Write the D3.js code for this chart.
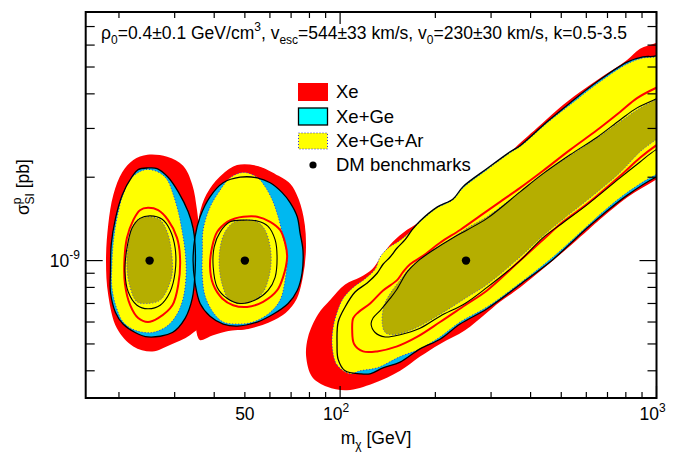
<!DOCTYPE html>
<html>
<head>
<meta charset="utf-8">
<script src="https://cdnjs.cloudflare.com/ajax/libs/d3/7.8.5/d3.min.js"></script>
<style>
  body { margin: 0; background: #fff; }
  svg { display: block; font-family: "Liberation Sans", Arial, Helvetica, sans-serif; }
</style>
</head>
<body>
<svg id="chart" width="684" height="462"></svg>
<script>
// axis ranges and ticks
var xDomain = [15.7, 1000];
var yDomain = [3.19e-10, 7.9e-9];
var xMinorTicks = [20, 30, 40, 50, 60, 70, 80, 90, 200, 300, 400, 500, 600, 700, 800, 900];
var xMajorTicks = [100, 1000];
var yMinorTicks = [4e-10, 5e-10, 6e-10, 7e-10, 8e-10, 9e-10, 2e-9, 3e-9, 4e-9, 5e-9, 6e-9, 7e-9];
var yMajorTicks = [1e-9];

// benchmark points (GeV, pb)
var benchMass = [25, 50, 250];
var benchSigma = [1e-9, 1e-9, 1e-9];

// contours: [m_chi in GeV, sigma in units of 1e-9 pb]
var SIGMA_UNIT = 1e-9;

// m = 25 GeV
var xeOuter25 = [[24.6,2.41],[28.4,2.37],[31.9,2.20],[34.1,1.88],[35.3,1.52],[36.1,1.19],[36.9,0.926],[37.5,0.721],[36.9,0.60],[33.6,0.539],[29.0,0.496],[25.5,0.47],[22.2,0.49],[19.7,0.57],[18.5,0.75],[18.2,1.0],[18.5,1.35],[19.2,1.73],[20.5,2.09],[22.2,2.31]];
var xeGeOuter25 = [[24.7,2.16],[26.4,2.15],[28.6,2.0],[30.8,1.77],[33.1,1.50],[34.3,1.31],[34.8,1.14],[34.8,0.91],[34.1,0.73],[32.4,0.62],[29.5,0.55],[24.7,0.53],[22.5,0.55],[20.6,0.59],[19.5,0.65],[18.8,0.77],[18.8,0.91],[18.9,1.14],[19.5,1.42],[20.5,1.73],[22.0,2.01],[23.0,2.13]];
var xeGeArOuter25 = [[24.2,2.13],[26.6,2.09],[28.4,1.96],[29.7,1.73],[30.8,1.50],[31.7,1.27],[32.4,1.07],[32.6,0.89],[31.9,0.73],[30.5,0.64],[28.4,0.58],[25.5,0.55],[22.5,0.56],[20.6,0.60],[19.6,0.68],[19.0,0.80],[19.0,0.97],[19.2,1.17],[19.7,1.42],[20.6,1.73],[22.0,2.0]];
var xeInner25 = [[24.7,1.55],[26.6,1.52],[28.6,1.40],[30.5,1.21],[31.2,1.02],[30.8,0.82],[29.5,0.69],[26.6,0.62],[24.7,0.60],[23.0,0.62],[21.7,0.69],[20.9,0.82],[20.8,0.99],[21.2,1.21],[22.2,1.40],[23.3,1.52]];
var xeGeInner25 = [[25.1,1.45],[27.4,1.41],[29.0,1.29],[30.1,1.11],[30.1,0.91],[29.0,0.77],[27.0,0.69],[24.7,0.67],[22.8,0.69],[21.4,0.77],[20.9,0.91],[21.2,1.11],[22.0,1.31],[23.3,1.42]];
var xeGeArInner25 = [[24.7,1.44],[27.0,1.40],[28.4,1.27],[29.2,1.11],[29.5,0.91],[28.6,0.80],[27.0,0.72],[24.7,0.70],[22.8,0.71],[21.7,0.80],[21.2,0.94],[21.4,1.14],[22.0,1.31],[23.0,1.41]];

// m = 50 GeV
var xeOuter50 = [[47.3,2.20],[55.1,2.18],[62.3,2.04],[69.5,1.88],[73.6,1.66],[76.9,1.35],[77.5,1.07],[75.8,0.87],[72.6,0.73],[67.0,0.65],[59.2,0.60],[51.2,0.57],[44.3,0.56],[39.4,0.54],[36.1,0.52],[35.1,0.59],[35.1,0.72],[35.3,0.93],[35.6,1.19],[36.1,1.46],[38.0,1.73],[41.8,2.0]];
var xeGeOuter50 = [[48.3,2.0],[54.7,1.99],[60.1,1.91],[65.6,1.76],[69.5,1.62],[73.2,1.44],[74.7,1.26],[76.3,1.09],[75.8,0.90],[73.2,0.78],[68.5,0.70],[61.4,0.64],[54.7,0.60],[47.3,0.58],[42.7,0.59],[38.8,0.63],[36.1,0.70],[34.8,0.83],[34.3,1.0],[34.8,1.22],[36.1,1.44],[38.8,1.70],[42.7,1.91]];
var xeGeArOuter50 = [[49.4,2.08],[54.7,2.0],[57.9,1.85],[61.0,1.66],[63.7,1.44],[66.0,1.22],[68.0,1.03],[67.0,0.85],[64.6,0.72],[60.1,0.65],[53.1,0.60],[47.3,0.59],[42.7,0.60],[39.7,0.65],[37.5,0.74],[36.7,0.87],[36.7,1.09],[36.9,1.29],[38.8,1.56],[41.8,1.80],[44.9,1.99]];
var xeInner50 = [[49.4,1.44],[54.7,1.44],[60.1,1.38],[64.6,1.29],[67.0,1.16],[68.0,1.03],[66.0,0.87],[63.2,0.78],[57.1,0.71],[50.8,0.68],[45.9,0.69],[42.4,0.73],[39.7,0.82],[38.8,0.95],[39.4,1.12],[40.9,1.27],[44.0,1.38],[46.6,1.42]];
var xeGeInner50 = [[49.4,1.40],[54.7,1.39],[59.2,1.33],[62.3,1.19],[63.2,1.03],[62.3,0.87],[59.2,0.78],[53.9,0.72],[48.3,0.70],[44.0,0.73],[40.9,0.80],[39.7,0.95],[40.0,1.12],[41.8,1.27],[44.9,1.38]];
var xeGeArInner50 = [[50.1,1.40],[54.7,1.38],[57.9,1.29],[60.1,1.12],[60.5,0.98],[59.2,0.85],[56.7,0.76],[52.0,0.71],[47.6,0.70],[44.3,0.73],[42.4,0.82],[41.5,0.95],[41.8,1.12],[43.3,1.27],[45.9,1.37]];

// m = 250 GeV
var xeOuter250 = [[91.0,0.35],[81.6,0.38],[78.1,0.45],[79.2,0.53],[85.2,0.64],[93.0,0.72],[103.7,0.82],[115.7,0.87],[126.2,0.93],[133.8,1.02],[143.9,1.14],[158.2,1.26],[178.9,1.38],[207,1.53],[239.4,1.72],[276.9,1.94],[320.3,2.20],[352,2.51],[419,3.01],[485,3.50],[573,4.06],[678,4.64],[807,5.30],[887,5.82],[995,6.11],[1144,6.53],
  [1144,2.16],[995,1.96],[807,1.69],[678,1.44],[603,1.28],[471,1.0],[370.5,0.80],[320.3,0.71],[287.2,0.64],[248.3,0.56],[207,0.50],[178.9,0.45],[154.8,0.40],[127.1,0.36],[105.2,0.34]];
var xeGeOuter250 = [[115.7,0.39],[103.7,0.40],[98.6,0.44],[97.8,0.50],[98.6,0.60],[103.7,0.68],[111.5,0.77],[121.8,0.83],[130.9,0.90],[136.7,0.97],[143.9,1.03],[151.4,1.11],[160.5,1.19],[168.8,1.29],[178.9,1.39],[202.5,1.56],[227.5,1.67],[244.7,1.85],[291.4,2.15],[344.5,2.47],[370.5,2.60],[451,3.17],[533,3.71],[649,4.42],[807,5.21],[906,5.44],[995,5.48],[1144,5.87],
  [1144,2.13],[995,2.0],[807,1.72],[678,1.47],[603,1.31],[471,1.01],[370.5,0.82],[291.4,0.67],[239.4,0.59],[207,0.52],[178.9,0.48],[154.8,0.43],[136.7,0.41],[124.4,0.39]];
var xeGeArOuter250 = [[107.6,0.39],[97.8,0.42],[94.4,0.49],[95.0,0.57],[97.8,0.65],[102.2,0.73],[110.0,0.80],[120.0,0.86],[129.0,0.93],[133.8,1.03],[141.9,1.11],[152.6,1.17],[164.0,1.25],[178.9,1.38],[202.5,1.55],[227.5,1.66],[244.7,1.83],[291.4,2.13],[344.5,2.45],[370.5,2.58],[451,3.14],[533,3.65],[649,4.35],[807,5.13],[906,5.39],[995,5.44],[1144,5.77],
  [1144,2.16],[995,2.04],[807,1.76],[678,1.50],[603,1.33],[471,1.03],[370.5,0.83],[291.4,0.68],[239.4,0.60],[207,0.53],[178.9,0.48],[154.8,0.45],[130.9,0.41],[115.7,0.40]];
var xeInner250 = [[109.2,0.56],[110.0,0.62],[114.0,0.65],[124.4,0.70],[136.7,0.78],[151.4,0.85],[158.2,0.91],[166.4,0.97],[182.8,1.04],[207,1.16],[239.4,1.29],[276.9,1.45],[320.3,1.63],[370.5,1.83],[438,2.11],[533,2.51],[649,2.96],[767,3.44],[868,3.86],[995,4.20],[1144,4.49],
  [1144,2.88],[995,2.60],[887,2.35],[767,2.02],[603,1.60],[506.5,1.38],[438,1.19],[370.5,1.0],[291.4,0.78],[248.3,0.69],[207,0.60],[175.0,0.53],[151.4,0.49],[130.9,0.47],[118.2,0.47],[110.7,0.50]];
var xeGeInner250 = [[125.3,0.59],[127.1,0.62],[133.8,0.66],[143.9,0.73],[151.4,0.79],[162.9,0.91],[175.0,0.99],[196.6,1.09],[227.5,1.21],[252,1.29],[291.4,1.42],[370.5,1.77],[438,2.06],[533,2.41],[649,2.79],[767,3.22],[868,3.56],[995,3.83],[1144,4.10],
  [1144,2.69],[995,2.51],[887,2.27],[767,1.99],[603,1.59],[506.5,1.37],[438,1.21],[370.5,1.0],[291.4,0.80],[248.3,0.70],[207,0.63],[178.9,0.57],[154.8,0.54],[138.8,0.53],[129.0,0.55]];
var xeGeArInner250 = [[135.8,0.60],[137.8,0.69],[143.9,0.76],[154.8,0.85],[166.4,0.94],[196.6,1.09],[227.5,1.21],[252,1.31],[291.4,1.44],[370.5,1.77],[438,2.06],[533,2.39],[649,2.77],[767,3.17],[868,3.50],[995,3.80],[1144,4.06],
  [1144,3.09],[995,2.73],[887,2.47],[767,2.08],[603,1.65],[506.5,1.41],[438,1.23],[370.5,1.03],[291.4,0.82],[248.3,0.73],[207,0.64],[172.6,0.57],[147.1,0.54],[138.8,0.55]];

var legendLabels = ['Xe', 'Xe+Ge', 'Xe+Ge+Ar', 'DM benchmarks'];

var red = '#ff0000';
var cyan = '#00b8f0';
var yellow = '#ffff00';
var olive = '#b5ae00';
var dotBlue = '#3030e0';

var svg = d3.select('#chart');
var pLeft = 85.7, pRight = 656.5, pTop = 12, pBottom = 398;

var x = d3.scaleLog().domain(xDomain).range([pLeft, pRight]);
var y = d3.scaleLog().domain(yDomain).range([pBottom, pTop]);

var line = d3.line()
    .x(function(d) { return x(d[0]); })
    .y(function(d) { return y(d[1] * SIGMA_UNIT); })
    .curve(d3.curveCatmullRomClosed.alpha(0.5));

svg.append('clipPath').attr('id', 'plotclip')
  .append('rect').attr('x', pLeft).attr('y', pTop)
  .attr('width', pRight - pLeft).attr('height', pBottom - pTop);

var g = svg.append('g').attr('clip-path', 'url(#plotclip)');

var fill = function(data, color) {
    return g.append('path').attr('d', line(data)).attr('fill', color).attr('stroke', 'none');
};
var outline = function(data, color, width, dash) {
    var p = g.append('path').attr('d', line(data)).attr('fill', 'none')
        .attr('stroke', color).attr('stroke-width', width);
    if (dash) p.attr('stroke-dasharray', dash);
    return p;
};

// Xe outer regions
[xeOuter25, xeOuter50, xeOuter250].forEach(function(c) { fill(c, red); });
outline(xeOuter50, red, 1.5);
// Xe+Ge outer regions
[xeGeOuter25, xeGeOuter50, xeGeOuter250].forEach(function(c) { fill(c, cyan); });
// Xe+Ge+Ar outer regions
[xeGeArOuter25, xeGeArOuter50, xeGeArOuter250].forEach(function(c) {
    fill(c, yellow);
    outline(c, dotBlue, 1, '1,2');
});
// Xe+Ge+Ar inner regions
[xeGeArInner25, xeGeArInner50, xeGeArInner250].forEach(function(c) {
    fill(c, olive);
    outline(c, '#5050c0', 1, '1,2');
});
// lines
[xeGeOuter25, xeGeOuter50, xeGeOuter250].forEach(function(c) { outline(c, '#000', 1.3); });
[xeInner25, xeInner50, xeInner250].forEach(function(c) { outline(c, red, 2); });
[xeGeInner25, xeGeInner50, xeGeInner250].forEach(function(c) { outline(c, '#000', 1.1); });

// benchmarks
g.selectAll('circle.bench').data(benchMass).enter()
  .append('circle').attr('class', 'bench')
  .attr('cx', function(d) { return x(d); })
  .attr('cy', function(d, i) { return y(benchSigma[i]); })
  .attr('r', 4.2).attr('fill', '#000');

// ticks (all four sides, pointing inward)
var ticks = svg.append('g').attr('stroke', '#000').attr('stroke-width', 1.2);
var xt = xMinorTicks.map(function(v) { return {v: v, len: 6}; })
    .concat(xMajorTicks.map(function(v) { return {v: v, len: 12}; }));
xt.forEach(function(t) {
    ticks.append('line').attr('x1', x(t.v)).attr('x2', x(t.v)).attr('y1', pBottom).attr('y2', pBottom - t.len);
    ticks.append('line').attr('x1', x(t.v)).attr('x2', x(t.v)).attr('y1', pTop).attr('y2', pTop + t.len);
});
var yt = yMinorTicks.map(function(v) { return {v: v, len: 9}; })
    .concat(yMajorTicks.map(function(v) { return {v: v, len: 17}; }));
yt.forEach(function(t) {
    ticks.append('line').attr('y1', y(t.v)).attr('y2', y(t.v)).attr('x1', pLeft).attr('x2', pLeft + t.len);
    ticks.append('line').attr('y1', y(t.v)).attr('y2', y(t.v)).attr('x1', pRight).attr('x2', pRight - t.len);
});

// frame
svg.append('rect').attr('x', pLeft).attr('y', pTop)
  .attr('width', pRight - pLeft).attr('height', pBottom - pTop)
  .attr('fill', 'none').attr('stroke', '#000').attr('stroke-width', 2);

// tick labels
var fs = 17.5;
svg.append('text').attr('x', x(50)).attr('y', 420).attr('text-anchor', 'middle')
  .attr('font-size', fs).text('50');
[100, 1000].forEach(function(v) {
    var t = svg.append('text').attr('x', x(v) - 4).attr('y', 420).attr('text-anchor', 'middle')
      .attr('font-size', fs);
    t.append('tspan').text('10');
    t.append('tspan').attr('dy', -8).attr('font-size', 12).text(Math.round(Math.log10(v)));
});
var yl = svg.append('text').attr('x', 80).attr('y', y(1e-9) + 6.5).attr('text-anchor', 'end')
  .attr('font-size', fs);
yl.append('tspan').text('10');
yl.append('tspan').attr('dy', -8).attr('font-size', 12).text('-9');

// axis titles
var xtitle = svg.append('text').attr('x', 376).attr('y', 444).attr('text-anchor', 'middle')
  .attr('font-size', fs);
xtitle.append('tspan').text('m');
xtitle.append('tspan').attr('dy', 5).attr('font-size', 12).text('\u03c7');
xtitle.append('tspan').attr('dy', -5).text(' [GeV]');

var ytitle = svg.append('text').attr('transform', 'translate(29,187) rotate(-90)')
  .attr('text-anchor', 'middle').attr('font-size', fs);
ytitle.append('tspan').text('\u03c3');
ytitle.append('tspan').attr('dy', -8).attr('font-size', 12).text('p');
ytitle.append('tspan').attr('dx', -7).attr('dy', 13).attr('font-size', 12).text('SI');
ytitle.append('tspan').attr('dy', -5).text(' [pb]');

// header
var head = svg.append('text').attr('x', 101).attr('y', 39).attr('font-size', 17.5);
var parts = [['\u03c1', 0], ['0', 5], ['=0.4\u00b10.1 GeV/cm', 0], ['3', -8], [', v', 0], ['esc', 5],
             ['=544\u00b133 km/s, v', 0], ['0', 5], ['=230\u00b130 km/s, k=0.5-3.5', 0]];
var prev = 0;
parts.forEach(function(p) {
    head.append('tspan').attr('dy', p[1] - prev).attr('font-size', p[1] ? 12 : 17.5).text(p[0]);
    prev = p[1];
});

// legend
var lg = svg.append('g');
lg.append('rect').attr('x', 298).attr('y', 83).attr('width', 30).attr('height', 18).attr('fill', red);
lg.append('rect').attr('x', 298.5).attr('y', 108).attr('width', 29).attr('height', 17)
  .attr('fill', '#00ffff').attr('stroke', '#000').attr('stroke-width', 1.3);
lg.append('rect').attr('x', 298.5).attr('y', 133).attr('width', 29).attr('height', 16)
  .attr('fill', yellow).attr('stroke', dotBlue).attr('stroke-width', 1).attr('stroke-dasharray', '1,2');
lg.append('circle').attr('cx', 313).attr('cy', 165).attr('r', 3.6).attr('fill', '#000');
var ly = [98, 122.7, 147, 171];
legendLabels.forEach(function(s, i) {
    lg.append('text').attr('x', 336).attr('y', ly[i]).attr('font-size', 18.5).text(s);
});
</script>
</body>
</html>
